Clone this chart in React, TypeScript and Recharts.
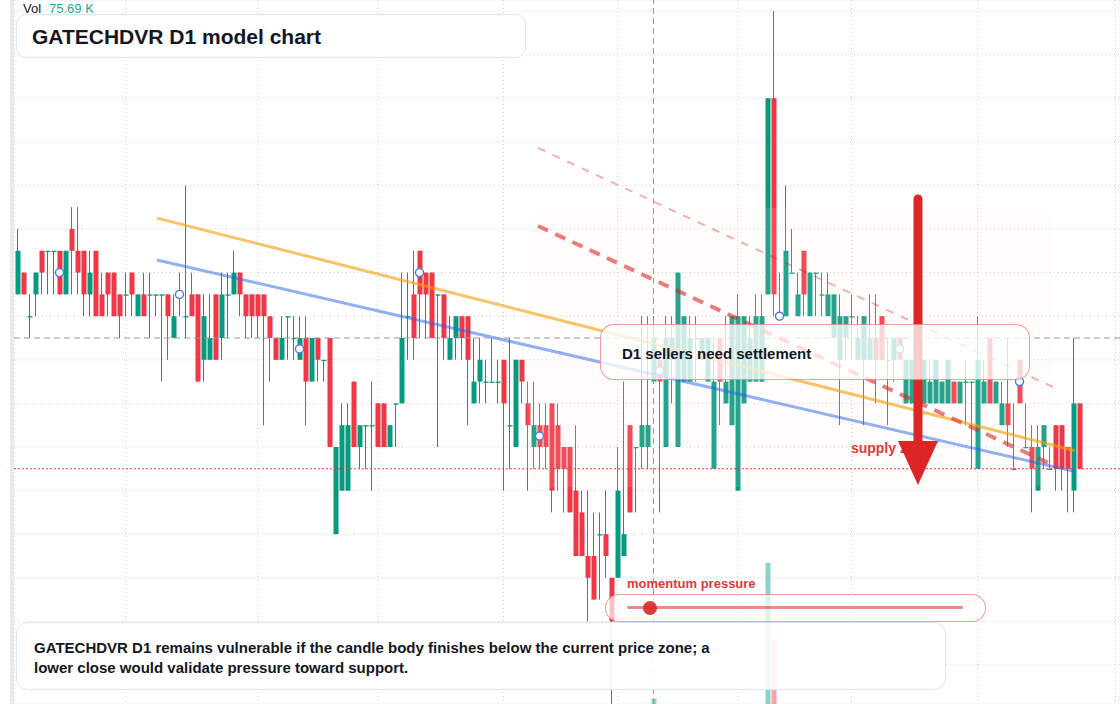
import {
  ComposedChart,
  Bar,
  Scatter,
  XAxis,
  YAxis,
  CartesianGrid,
  ReferenceLine,
  ReferenceArea,
  ReferenceDot,
  Cell,
} from 'recharts';

const FONT = '"Liberation Sans", Arial, Helvetica, sans-serif';
const UP = '#089981';
const DOWN = '#f23645';
const INK = '#131722';

// daily candles, oldest first
const opens = [
  27, 28, 26, 27, 29, 29, 29, 29, 27, 30, 29, 29, 27, 29, 27, 28, 28, 27, 27, 28,
  26, 27, 27, 27, 27, 27, 25, 27, 26, 27, 27, 24, 24, 27, 25, 27, 27, 28, 27, 27,
  27, 27, 26, 25, 24, 26, 25, 24, 25, 23, 25, 24, 25, 16, 18, 18, 23, 20, 21, 21,
  22, 22, 20, 22, 22, 26, 27, 29, 28, 28, 27, 27, 24, 25, 26, 26, 22, 23, 23, 23,
  23, 24, 21, 20, 24, 22, 20, 21, 21, 22, 21, 20, 20, 18, 17, 15, 15, 16, 16, 14,
  14, 15, 21, 20, 20, 20, 23, 24, 20, 24, 20, 23, 23, 25, 24, 23, 19, 25, 22, 21,
  18, 22, 23, 23, 23, 27, 36, 26, 26, 28, 26, 29, 26, 28, 27, 26, 25, 24, 25, 26,
  24, 24, 24, 25, 26, 24, 24, 25, 22, 22, 22, 22, 22, 22, 22, 22, 23, 22, 23, 23,
  19, 22, 25, 22, 21, 22, 19, 24, 20, 20, 18, 20, 19, 21, 21, 20, 18, 22,
];
const highs = [
  30, 28, 27, 28, 29, 29, 29, 29, 29, 31, 31, 29, 29, 29, 28, 28, 28, 27, 28, 28,
  27, 28, 28, 27, 27, 27, 27, 28, 32, 28, 27, 27, 27, 27, 28, 28, 29, 28, 27, 27,
  27, 27, 26, 25, 26, 26, 26, 26, 26, 25, 25, 24, 25, 20, 22, 22, 23, 21, 21, 23,
  22, 22, 21, 22, 28, 28, 29, 29, 28, 28, 27, 27, 26, 26, 26, 26, 25, 25, 24, 25,
  24, 24, 25, 24, 24, 23, 23, 22, 22, 22, 22, 20, 20, 21, 18, 18, 17, 17, 18, 14,
  20, 23, 21, 20, 26, 26, 26, 24, 26, 26, 28, 26, 26, 26, 25, 25, 25, 25, 26, 26,
  27, 26, 26, 27, 27, 36, 40, 28, 32, 30, 28, 29, 28, 28, 28, 28, 27, 27, 26, 27,
  26, 26, 27, 27, 26, 25, 25, 25, 24, 24, 24, 24, 24, 24, 23, 24, 23, 23, 24, 23,
  26, 24, 25, 23, 23, 25, 22, 24, 22, 21, 21, 21, 20, 21, 21, 20, 25, 22,
];
const lows = [
  27, 27, 25, 26, 27, 27, 27, 27, 27, 27, 27, 26, 26, 26, 26, 26, 26, 25, 26, 26,
  26, 26, 25, 26, 23, 24, 25, 26, 25, 26, 23, 23, 24, 24, 24, 25, 27, 26, 25, 25,
  25, 21, 23, 24, 24, 24, 24, 24, 21, 23, 23, 23, 20, 16, 18, 18, 20, 19, 19, 18,
  20, 20, 20, 20, 22, 24, 24, 25, 25, 25, 20, 24, 24, 24, 24, 21, 22, 22, 22, 23,
  22, 18, 19, 20, 22, 18, 19, 19, 19, 17, 18, 17, 17, 15, 15, 12, 13, 13, 14, 8,
  14, 15, 17, 17, 19, 19, 23, 17, 20, 22, 20, 23, 23, 23, 24, 23, 19, 21, 22, 21,
  18, 22, 23, 23, 23, 27, 26, 26, 26, 28, 26, 26, 26, 26, 26, 26, 25, 21, 24, 24,
  24, 21, 24, 22, 24, 21, 23, 24, 22, 22, 22, 22, 22, 22, 22, 22, 22, 22, 21, 19,
  19, 22, 22, 22, 21, 20, 19, 22, 20, 17, 18, 19, 19, 18, 18, 17, 17, 19,
];
const closes = [
  29, 27, 26, 28, 28, 29, 29, 27, 29, 29, 28, 27, 28, 26, 26, 27, 26, 26, 27, 27,
  27, 26, 27, 27, 27, 26, 26, 27, 26, 26, 23, 26, 25, 24, 27, 27, 28, 27, 26, 26,
  26, 26, 25, 24, 25, 26, 25, 25, 23, 25, 24, 24, 20, 20, 21, 21, 20, 21, 21, 21,
  20, 20, 21, 22, 25, 26, 25, 27, 27, 25, 27, 25, 25, 26, 25, 24, 23, 24, 23, 23,
  23, 22, 21, 24, 23, 21, 21, 20, 20, 18, 19, 19, 17, 15, 15, 14, 13, 16, 15, 12,
  18, 16, 17, 20, 21, 21, 25, 23, 25, 25, 28, 26, 25, 25, 25, 25, 23, 23, 23, 26,
  26, 26, 25, 26, 26, 36, 27, 26, 29, 28, 27, 27, 28, 28, 27, 27, 27, 26, 26, 26,
  25, 26, 25, 24, 24, 24, 25, 24, 24, 24, 23, 24, 23, 24, 23, 24, 22, 23, 23, 23,
  24, 23, 22, 23, 22, 21, 19, 22, 20, 19, 20, 21, 19, 19, 19, 19, 22, 19,
];

// only the volume bars that show above the bottom panel (K)
const volumeIndex = [106, 125, 126];
const volumeK = [75.69, 2003, 909];

const monthTicks = [18, 40, 60, 81, 100, 120, 139, 160, 183];
const priceTicks = [40, 38, 36, 34, 32, 30, 28, 26, 24, 22, 20, 18, 16, 14, 12, 10];
const markerIndex = [7, 27, 47, 67, 87, 107, 127, 147, 167];

const hoverIndex = 106;
const hoverPrice = 25;
const lastPrice = 19;

const trendOrange = [[23.25, 30.5], [176.25, 19.83]];
const trendBlue = [[23.25, 28.58], [176.25, 18.87]];
const channelLow = [[86.75, 30.14], [172.58, 19.17]];
const channelHigh = [[86.75, 33.72], [172.58, 22.75]];
const zoneX = [84.9, 172.4];
const zoneY = [18.17, 30.96];
const arrowPath = [[150.08, 31.38], [150.08, 18.26]];
const supplyLabel = [138.9, 19.72];

const X_DOMAIN = [-0.5833, 183.75];
const Y_DOMAIN = [8.21, 40.505];

const candles = opens.map((open, i) => {
  const vi = volumeIndex.indexOf(i);
  return {
    i,
    open,
    close: closes[i],
    high: highs[i],
    low: lows[i],
    range: [lows[i], highs[i]],
    vol: vi >= 0 ? volumeK[vi] : null,
  };
});

const markers = markerIndex.map((i) => ({ i, mid: (opens[i] + closes[i]) / 2 }));

const seg = (pts: number[][]) => pts.map(([x, y]) => ({ x, y }));

const Candle = (props: any) => {
  const { x, y, width, height, payload } = props;
  if (x == null || y == null || !payload) return null;
  const { open, close, high, low } = payload;
  const span = high - low || 1;
  const h = Math.abs(height);
  const top0 = Math.min(y, y + height);
  const py = (v: number) => top0 + ((high - v) / span) * h;
  const color = close >= open ? UP : DOWN;
  const bodyTop = py(Math.max(open, close));
  const bodyBot = py(Math.min(open, close));
  const wx = Math.floor(x + width / 2);
  return (
    <g>
      <rect x={wx} y={top0} width={1} height={h} fill={color} />
      <rect x={x} y={bodyTop} width={width} height={Math.max(bodyBot - bodyTop, 1.3)} fill={color} />
    </g>
  );
};

const Arrow = (p: any) => {
  const x = p.x1;
  const top = Math.min(p.y1, p.y2);
  const tip = Math.max(p.y1, p.y2);
  return (
    <g>
      <line x1={x} y1={top} x2={x} y2={tip - 40} stroke="#dc2626" strokeWidth={9} strokeLinecap="round" />
      <polygon points={`${x - 20},${tip - 44} ${x + 20},${tip - 44} ${x},${tip}`} fill="#dc2626" />
    </g>
  );
};

const Txt = ({ x, base, size, weight = 400, color = INK, children }: any) => (
  <div
    style={{
      position: 'absolute',
      left: x,
      top: base - 0.8465 * size,
      fontSize: size,
      lineHeight: `${size}px`,
      fontWeight: weight,
      color,
      whiteSpace: 'nowrap',
      fontFamily: FONT,
    }}
  >
    {children}
  </div>
);

const box = (l: number, t: number, w: number, h: number, r: number, border: string, bg: string) => ({
  position: 'absolute' as const,
  left: l,
  top: t,
  width: w,
  height: h,
  boxSizing: 'border-box' as const,
  border,
  borderRadius: r,
  background: bg,
});

export default function App() {
  return (
    <div style={{ position: 'absolute', left: 0, top: 0, width: 1120, height: 704, background: '#fff', overflow: 'hidden', fontFamily: FONT }}>
      <div style={{ position: 'absolute', left: 14, top: 0 }}>
        <ComposedChart width={1106} height={704} data={candles} margin={{ top: 0, right: 0, bottom: 0, left: 0 }}>
          <CartesianGrid xAxisId="p" yAxisId="p" stroke="#cdd0d6" strokeDasharray="1 3" />
          <XAxis xAxisId="p" dataKey="i" type="number" domain={X_DOMAIN} ticks={monthTicks} hide allowDataOverflow />
          <XAxis xAxisId="v" dataKey="i" type="number" domain={X_DOMAIN} hide allowDataOverflow />
          <YAxis yAxisId="p" type="number" domain={Y_DOMAIN} ticks={priceTicks} hide allowDataOverflow />
          <YAxis yAxisId="v" type="number" domain={[0, 10000]} hide allowDataOverflow />
          <Bar xAxisId="v" yAxisId="v" dataKey="vol" barSize={5} isAnimationActive={false} zIndex={250}>
            {candles.map((c) => (
              <Cell key={c.i} fill={c.close >= c.open ? 'rgba(8,153,129,0.45)' : 'rgba(242,54,69,0.45)'} />
            ))}
          </Bar>
          <Bar xAxisId="p" yAxisId="p" dataKey="range" barSize={5} shape={Candle} isAnimationActive={false} zIndex={300} />
          <ReferenceArea
            xAxisId="p"
            yAxisId="p"
            x1={zoneX[0]}
            x2={zoneX[1]}
            y1={zoneY[0]}
            y2={zoneY[1]}
            zIndex={350}
            shape={(p: any) => <rect x={p.x} y={p.y} width={p.width} height={p.height} rx={20} fill="rgba(250,238,226,0.12)" />}
          />
          <ReferenceLine xAxisId="p" yAxisId="p" segment={seg(trendOrange)} stroke="#f59e0b" strokeOpacity={0.62} strokeWidth={3} zIndex={400} />
          <ReferenceLine xAxisId="p" yAxisId="p" segment={seg(trendBlue)} stroke="#2563eb" strokeOpacity={0.5} strokeWidth={3} zIndex={400} />
          <ReferenceLine xAxisId="p" yAxisId="p" segment={seg(channelHigh)} stroke="#dc2626" strokeOpacity={0.35} strokeWidth={2} strokeDasharray="8 8" zIndex={400} />
          <ReferenceLine xAxisId="p" yAxisId="p" segment={seg(channelLow)} stroke="#dc2626" strokeOpacity={0.6} strokeWidth={4} strokeDasharray="11 8" zIndex={400} />
          <ReferenceLine xAxisId="p" yAxisId="p" y={hoverPrice} stroke="#9598a1" strokeDasharray="6 4" zIndex={450} />
          <ReferenceLine xAxisId="p" yAxisId="p" x={hoverIndex} stroke="#9598a1" strokeDasharray="6 4" zIndex={450} />
          <ReferenceLine xAxisId="p" yAxisId="p" y={lastPrice} stroke="#f23645" strokeDasharray="2 2" zIndex={450} />
          <Scatter
            xAxisId="p"
            yAxisId="p"
            data={markers}
            dataKey="mid"
            isAnimationActive={false}
            zIndex={600}
            shape={(p: any) => <circle cx={p.cx} cy={p.cy} r={4} fill="#fff" stroke="#4a78e8" strokeWidth={1.4} />}
          />
          <ReferenceDot
            xAxisId="p"
            yAxisId="p"
            x={supplyLabel[0]}
            y={supplyLabel[1]}
            zIndex={700}
            shape={(p: any) => (
              <text x={p.cx} y={p.cy} fill="#dc3b3b" fontSize={14} fontWeight={700} fontFamily={FONT}>
                supply zone
              </text>
            )}
          />
          <ReferenceLine xAxisId="p" yAxisId="p" segment={seg(arrowPath)} shape={Arrow} zIndex={800} />
        </ComposedChart>
      </div>

      <div style={{ position: 'absolute', left: 10, top: 0, width: 4, height: 704, background: '#ebebeb' }} />

      <Txt x={23} base={12.7} size={13}>Vol</Txt>
      <Txt x={49} base={12.7} size={13} color="#22ab94">75.69 K</Txt>

      <div style={box(16, 14, 510, 44, 10, '1.5px solid #d9e5fa', '#ffffff')} />
      <Txt x={32} base={43.5} size={21} weight={700}>GATECHDVR D1 model chart</Txt>

      <div style={box(600, 324, 430, 56, 14, '1.5px solid rgba(220,38,38,0.45)', 'rgba(255,255,255,0.77)')} />
      <Txt x={622} base={359} size={15} weight={700}>D1 sellers need settlement</Txt>

      <div style={box(16, 622, 930, 68, 12, '1.5px solid #d9e5fa', 'rgba(255,255,255,0.9)')} />
      <Txt x={34} base={652.5} size={15} weight={700}>
        GATECHDVR D1 remains vulnerable if the candle body finishes below the current price zone; a
      </Txt>
      <Txt x={34} base={672.5} size={15} weight={700}>lower close would validate pressure toward support.</Txt>

      <Txt x={627} base={588} size={13} weight={700} color="#dc3b3b">momentum pressure</Txt>
      <div style={box(605, 594, 381, 28, 14, '1.5px solid rgba(220,38,38,0.45)', 'rgba(255,255,255,0.7)')} />
      <div style={{ position: 'absolute', left: 627, top: 606, width: 336, height: 3, borderRadius: 2, background: 'rgba(220,38,38,0.55)' }} />
      <div style={{ position: 'absolute', left: 643, top: 600.5, width: 14, height: 14, borderRadius: 7, background: 'rgba(220,38,38,0.9)' }} />
    </div>
  );
}
